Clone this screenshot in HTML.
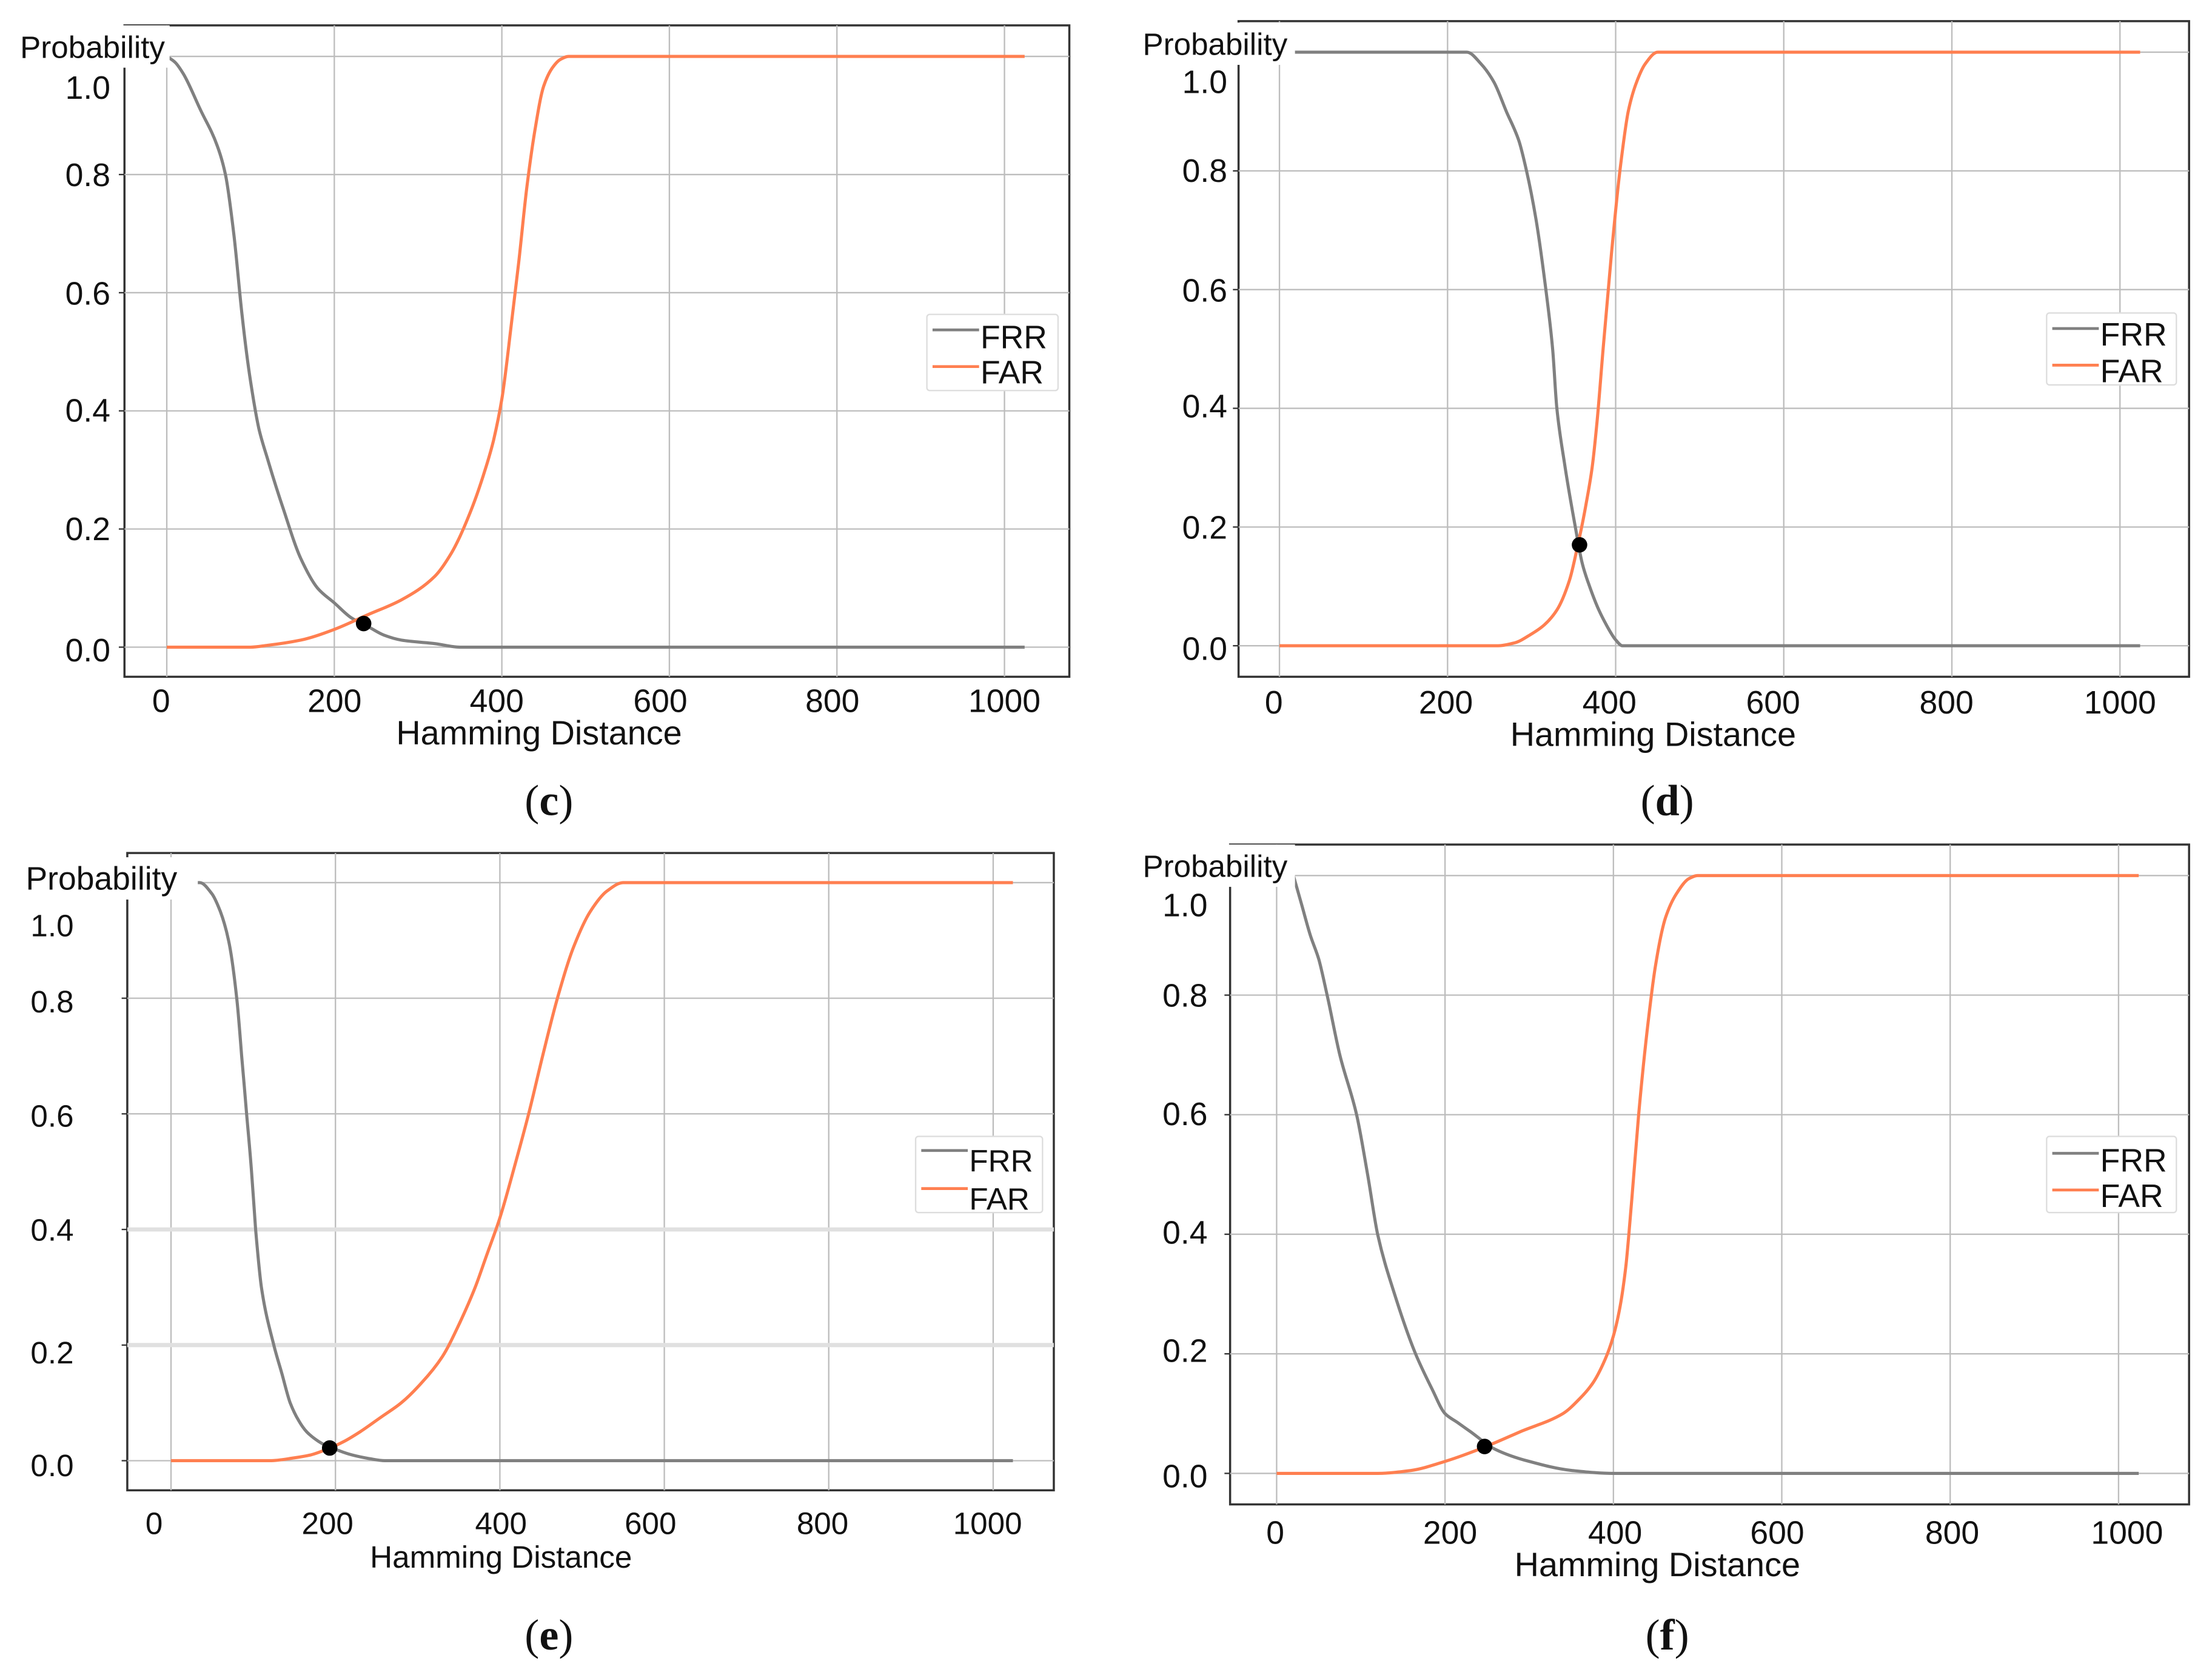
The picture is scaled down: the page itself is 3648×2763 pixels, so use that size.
<!DOCTYPE html>
<html><head><meta charset="utf-8"><style>
html,body{margin:0;padding:0;background:#fff}
svg{display:block}
text{font-family:"Liberation Sans",sans-serif;fill:#111}
.cap{font-family:"Liberation Serif",serif;font-size:31px}
</style></head><body>
<svg id="fig" width="3648" height="2763" viewBox="0 0 1568 1188" xmlns="http://www.w3.org/2000/svg"></svg>
<script>
// Shared tick values
const xTicks = [0, 200, 400, 600, 800, 1000];
const yTicks = [0.0, 0.2, 0.4, 0.6, 0.8, 1.0];
const seriesNames = ["FRR", "FAR"];

// Panel c
const cFrrX = [0,10,20,40,60,70,80,90,100,110,120,140,160,180,200,220,240,260,280,320,350,1024];
const cFrrY = [1.0,0.99,0.97,0.91,0.85,0.8,0.7,0.56,0.45,0.37,0.32,0.23,0.15,0.1,0.075,0.05,0.035,0.02,0.012,0.006,0,0];
const cFarX = [0,100,120,160,200,240,280,320,340,360,380,390,400,410,420,430,440,450,460,470,480,1024];
const cFarY = [0,0,0.003,0.012,0.03,0.055,0.08,0.12,0.16,0.22,0.3,0.35,0.42,0.53,0.65,0.78,0.88,0.95,0.98,0.995,1.0,1.0];
const cEer = [235, 0.04];

// Panel d
const dFrrX = [0,223,240,255,270,285,294,305,317,325,330,340,352,360,369,380,391,400,408,1024];
const dFrrY = [1.0,1.0,0.98,0.95,0.9,0.85,0.8,0.72,0.6,0.5,0.4,0.3,0.2,0.14,0.1,0.06,0.03,0.01,0,0];
const dFarX = [0,260,280,300,315,330,345,355,365,372,378,385,395,405,415,425,435,450,1024];
const dFarY = [0,0,0.005,0.02,0.035,0.06,0.11,0.17,0.24,0.3,0.38,0.5,0.66,0.8,0.9,0.95,0.98,1.0,1.0];
const dEer = [357, 0.17];

// Panel e
const eFrrX = [0,35,50,60,70,80,86,92,98,103,110,125,135,145,155,165,180,190,205,220,240,260,1024];
const eFrrY = [1.0,1.0,0.98,0.95,0.9,0.8,0.7,0.6,0.5,0.4,0.3,0.2,0.15,0.1,0.07,0.05,0.033,0.025,0.017,0.01,0.004,0,0];
const eFarX = [0,120,150,170,190,210,230,255,280,305,330,350,370,385,400,418,435,452,470,490,510,530,550,1024];
const eFarY = [0,0,0.005,0.01,0.02,0.033,0.05,0.075,0.1,0.135,0.18,0.235,0.3,0.36,0.42,0.51,0.6,0.7,0.8,0.89,0.95,0.985,1.0,1.0];
const eEer = [193, 0.022];

// Panel f
const fFrrX = [20,30,40,50,60,75,95,108,120,140,165,185,200,215,230,260,300,350,400,1024];
const fFrrY = [1.0,0.95,0.9,0.86,0.8,0.7,0.6,0.5,0.4,0.3,0.2,0.14,0.1,0.085,0.07,0.04,0.02,0.005,0,0];
const fFarX = [0,120,160,200,240,290,340,360,375,390,400,408,415,422,430,440,450,462,475,490,500,1024];
const fFarY = [0,0,0.005,0.02,0.04,0.07,0.1,0.125,0.15,0.19,0.23,0.28,0.35,0.46,0.6,0.74,0.85,0.93,0.97,0.995,1.0,1.0];
const fEer = [247, 0.045];

const NS = "http://www.w3.org/2000/svg";
const svg = document.getElementById("fig");
function mk(tag, attrs, parent){
  const e = document.createElementNS(NS, tag);
  for (const k in attrs) e.setAttribute(k, attrs[k]);
  (parent||svg).appendChild(e);
  return e;
}
// Monotone cubic (Fritsch-Carlson), no overshoot
function monoPath(pts){
  const n = pts.length;
  const dx = [], s = [], m = new Array(n);
  for (let i = 0; i < n-1; i++){ dx[i] = pts[i+1][0]-pts[i][0]; s[i] = (pts[i+1][1]-pts[i][1])/dx[i]; }
  m[0] = s[0]; m[n-1] = s[n-2];
  for (let i = 1; i < n-1; i++){
    if (s[i-1]*s[i] <= 0) m[i] = 0;
    else { const w1 = 2*dx[i]+dx[i-1], w2 = dx[i]+2*dx[i-1]; m[i] = (w1+w2)/(w1/s[i-1]+w2/s[i]); }
  }
  let d = "M" + pts[0][0].toFixed(1) + "," + pts[0][1].toFixed(1);
  for (let i = 0; i < n-1; i++){
    const h = dx[i]/3;
    d += " C" + (pts[i][0]+h).toFixed(1)+","+(pts[i][1]+m[i]*h).toFixed(1)+" "+
         (pts[i+1][0]-h).toFixed(1)+","+(pts[i+1][1]-m[i+1]*h).toFixed(1)+" "+
         pts[i+1][0].toFixed(1)+","+pts[i+1][1].toFixed(1);
  }
  return d;
}

function panel(p){
  const g = mk("g", {});
  
  
  const X = v => p.x0 + (p.x1000 - p.x0) * v / 1000;
  const Y = v => p.y0 + (p.y1 - p.y0) * v;
  const fr = mk("rect", {x:p.fl, y:p.ft, width:p.fr-p.fl, height:p.fb-p.ft, fill:"none", stroke:"#333", "stroke-width":1.5}, g);
  
  
  xTicks.forEach(t => {
    const l = mk("line", {x1:X(t), x2:X(t), y1:p.ft, y2:p.fb, stroke:"#bdbdbd", "stroke-width":1}, g);
    
    
  });
  yTicks.forEach(t => {
    const l = mk("line", {x1:p.fl, x2:p.fr, y1:Y(t), y2:Y(t), stroke: (p.id==="e" && (t===0.2||t===0.4))?"#e0e0e0":"#bdbdbd", "stroke-width": (p.id==="e" && (t===0.2||t===0.4))?3:1}, g);
    
    
    const tk = mk("line", {x1:p.fl-4, x2:p.fl, y1:Y(t), y2:Y(t), stroke:"#333", "stroke-width":1}, g);
    
    
  });
  yTicks.forEach((t, i) => {
    const tx = mk("text", {x:p.ylx, y:p.ylabY[i], "font-size":p.fs, "text-anchor":"end"}, g);
    tx.textContent = t.toFixed(1);
    
    
  });
  xTicks.forEach((t, i) => {
    const tx = mk("text", {x:p.xlabX[i], y:p.xly, "font-size":p.fs, "text-anchor":"middle"}, g);
    tx.textContent = String(t);
    
    
  });
  const xt = mk("text", {x:p.xtx, y:p.xty, "font-size":p.tfs, "text-anchor":"middle"}, g);
  xt.textContent = "Hamming Distance";
  
  
  function line(xs, ys, color, name){
    const pts = xs.map((v,i)=>[X(v), Y(ys[i])]);
    const pa = mk("path", {d:monoPath(pts), fill:"none", stroke:color, "stroke-width":2.2, "stroke-linejoin":"round"}, g);
    
    
  }
  line(p.frrX, p.frrY, "#808080", "frr-line");
  line(p.farX, p.farY, "#ff7f50", "far-line");
  const dot = mk("circle", {cx:X(p.eer[0]), cy:Y(p.eer[1]), r:5.5, fill:"#000"}, g);
  
  
  const yb = mk("rect", {x:p.pl-2, y:p.pt-15, width:p.pw, height:30, fill:"#fff"}, g);
  
  
  const yt = mk("text", {x:p.pl, y:p.pt+8, "font-size":p.pfs}, g);
  yt.textContent = "Probability";
  
  
  const lg = mk("g", {}, g);
  
  
  const lr = mk("rect", {x:p.lx, y:p.ly, width:p.lw, height:p.lh, fill:"#fff", stroke:"#ddd", "stroke-width":1, rx:2}, lg);
  
  
  seriesNames.forEach((n, i) => {
    const yy = p.ly + p.lrow[i];
    const ll = mk("line", {x1:p.lx+4, x2:p.lx+37, y1:yy, y2:yy, stroke: i?"#ff7f50":"#808080", "stroke-width":2}, lg);
    
    
    const lt = mk("text", {x:p.lx+38, y:yy + p.ltd[i], "font-size":p.fs}, lg);
    lt.textContent = n;
    
    
  });
  const cp = mk("text", {x:p.cx, y:p.cy, "text-anchor":"middle", class:"cap"}, g);
  cp.innerHTML = '(<tspan font-weight="bold">' + p.id + '</tspan>)';
  
  
}

panel({id:"c", fl:88, fr:758, ft:18, fb:480, x0:118, x1000:712, y0:459, y1:40,
  ylx:78, ylabY:[469,383,299,216,132,70], xlabX:[114,237,352,468,590,712], xly:505, xtx:382, xty:528, fs:23, tfs:24, pfs:22,
  frrX:cFrrX, frrY:cFrrY, farX:cFarX, farY:cFarY, eer:cEer,
  pl:14, pt:33, pw:108, lx:657, ly:223, lw:93, lh:54, lrow:[11,37], ltd:[13,12], cx:389, cy:578});
panel({id:"d", fl:878, fr:1552, ft:15, fb:480, x0:907, x1000:1503, y0:458, y1:37,
  ylx:870, ylabY:[468,382,296,214,129,66], xlabX:[903,1025,1141,1257,1380,1503], xly:506, xtx:1172, xty:529, fs:23, tfs:24, pfs:22,
  frrX:dFrrX, frrY:dFrrY, farX:dFarX, farY:dFarY, eer:dEer,
  pl:810, pt:31, pw:110, lx:1451, ly:222, lw:92, lh:51, lrow:[11,37], ltd:[12,12], cx:1182, cy:578});
panel({id:"e", fl:90, fr:747, ft:605, fb:1057, x0:121, x1000:704, y0:1036, y1:626,
  ylx:52, ylabY:[1047,967,880,799,718,664], xlabX:[109,232,355,461,583,700], xly:1088, xtx:355, xty:1112, fs:22, tfs:22, pfs:23,
  frrX:eFrrX, frrY:eFrrY, farX:eFarX, farY:eFarY, eer:eEer,
  pl:18, pt:623, pw:124, lx:649, ly:806, lw:90, lh:54, lrow:[10,37], ltd:[15,15], cx:389, cy:1170});
panel({id:"f", fl:872, fr:1552, ft:599, fb:1067, x0:905, x1000:1502, y0:1045, y1:621,
  ylx:856, ylabY:[1055,966,882,798,714,650], xlabX:[904,1028,1145,1260,1384,1508], xly:1095, xtx:1175, xty:1118, fs:23, tfs:24, pfs:22,
  frrX:fFrrX, frrY:fFrrY, farX:fFarX, farY:fFarY, eer:fEer,
  pl:810, pt:614, pw:110, lx:1451, ly:806, lw:92, lh:54, lrow:[12,38], ltd:[13,12], cx:1182, cy:1170});
</script>
</body></html>
